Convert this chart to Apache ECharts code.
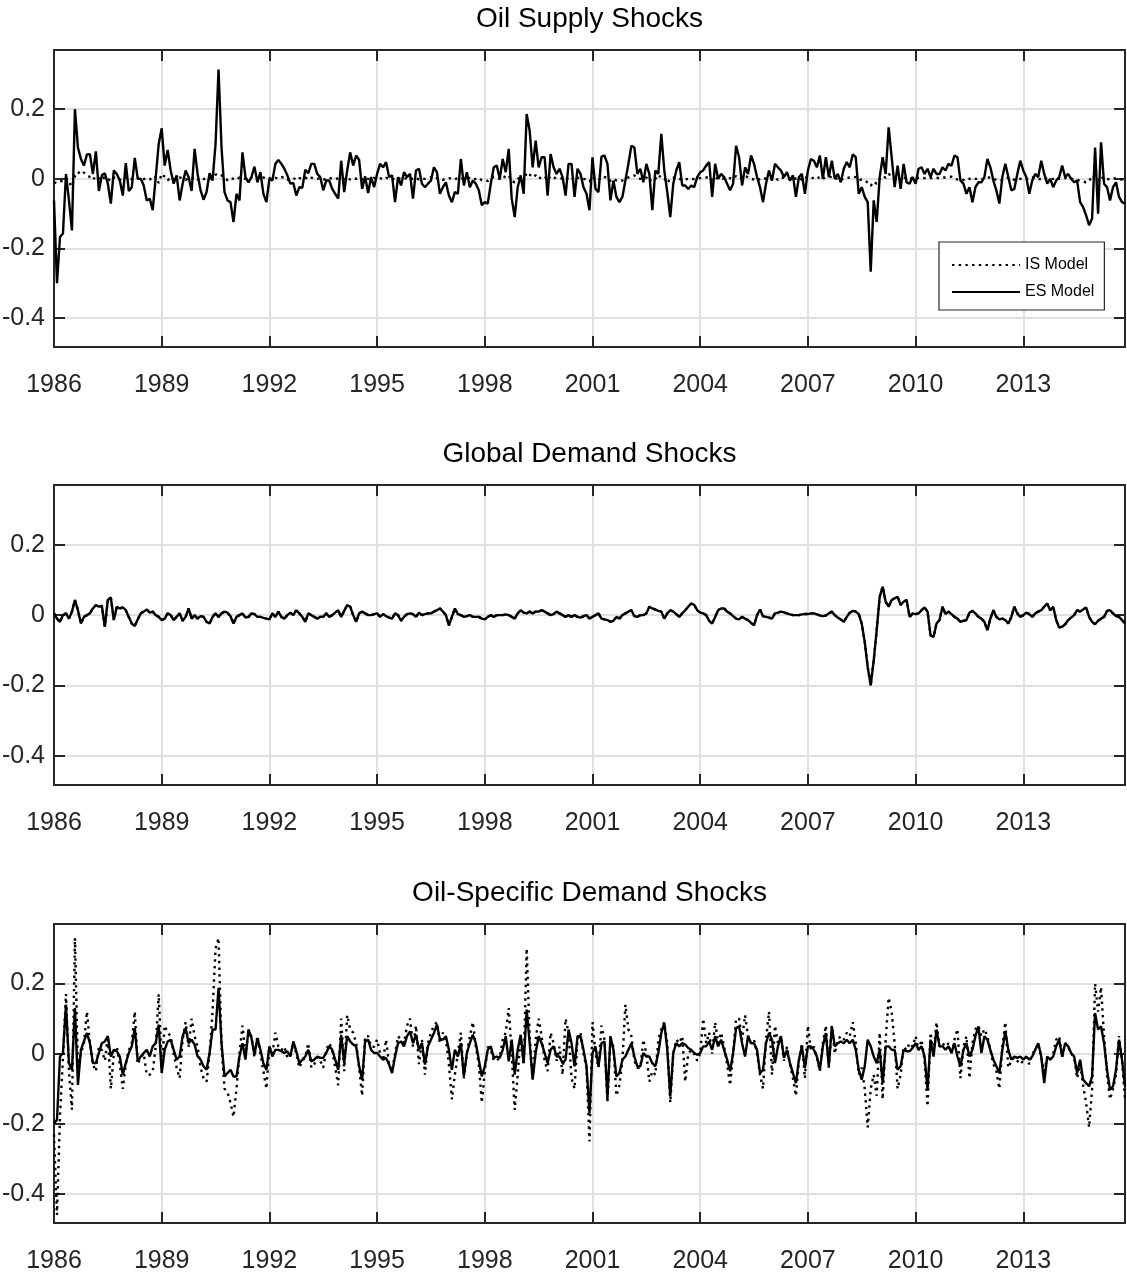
<!DOCTYPE html>
<html>
<head>
<title>Structural shocks</title>
<meta charset="UTF-8">
<script src="https://cdn.jsdelivr.net/npm/echarts@6/dist/echarts.min.js"></script>
<style>
html, body { margin: 0; padding: 0; background: #fff; }
#chart { width: 1127px; height: 1280px; }
</style>
</head>
<body>
<div id="chart"></div>
<script>
// monthly data, first point = Jan 1986
var firstYear = 1986;
var yearTicks = [1986, 1989, 1992, 1995, 1998, 2001, 2004, 2007, 2010, 2013];
var valueTicks = [-0.4, -0.2, 0, 0.2];
var panelTitles = ['Oil Supply Shocks', 'Global Demand Shocks', 'Oil-Specific Demand Shocks'];
var seriesNames = ['IS Model', 'ES Model'];

// oil supply shocks, ES model (solid)
var supplyES = [
-0.062, -0.300, -0.167, -0.157, 0.014, -0.062, -0.148, 0.200, 0.090, 0.057, 0.038, 0.070,
0.071, 0.014, 0.079, -0.035, 0.010, 0.016, -0.014, -0.071, 0.024, 0.014, -0.005, -0.048,
0.045, -0.035, -0.024, 0.060, 0.000, 0.000, -0.019, -0.062, -0.057, -0.090, 0.005, 0.100,
0.145, 0.038, 0.083, 0.024, -0.014, 0.010, -0.062, -0.014, 0.024, 0.005, -0.035, 0.086,
0.014, -0.033, -0.060, -0.038, 0.016, -0.005, 0.100, 0.314, 0.090, -0.038, -0.062, -0.067,
-0.124, -0.043, -0.062, 0.076, 0.005, -0.010, 0.005, 0.035, -0.010, 0.019, -0.043, -0.067,
0.000, -0.005, 0.043, 0.054, 0.043, 0.029, 0.010, -0.014, -0.012, -0.048, -0.024, -0.026,
0.026, 0.016, 0.043, 0.043, 0.014, 0.005, -0.033, -0.005, -0.005, -0.029, -0.043, -0.057,
0.052, -0.038, 0.024, 0.076, 0.038, 0.067, 0.054, -0.029, 0.007, -0.041, 0.005, -0.024,
0.014, 0.043, 0.033, 0.048, 0.005, 0.010, -0.067, 0.005, -0.019, 0.019, 0.005, 0.014,
-0.057, 0.024, 0.029, -0.014, -0.024, -0.014, -0.005, 0.033, 0.019, -0.043, -0.024, -0.010,
-0.048, -0.067, -0.038, -0.043, 0.057, -0.019, 0.019, -0.024, -0.005, -0.014, -0.033, -0.076,
-0.067, -0.071, -0.014, 0.033, 0.038, 0.000, 0.057, 0.019, 0.086, -0.057, -0.110, -0.024,
0.010, -0.043, 0.186, 0.138, 0.033, 0.110, 0.033, 0.062, 0.062, -0.048, 0.071, 0.033,
0.014, 0.029, 0.005, -0.048, 0.043, 0.043, -0.052, 0.029, 0.014, -0.024, -0.043, -0.090,
0.062, -0.029, -0.038, 0.064, 0.067, 0.043, -0.062, -0.005, -0.052, -0.067, -0.052, -0.005,
0.043, 0.095, 0.090, 0.014, 0.029, -0.010, 0.043, 0.014, -0.090, 0.024, 0.014, 0.129,
0.024, -0.038, -0.110, -0.014, 0.024, 0.048, -0.019, -0.019, -0.029, -0.019, -0.024, 0.005,
0.019, 0.024, 0.038, 0.048, -0.052, 0.043, 0.000, 0.014, 0.005, -0.014, -0.033, -0.014,
0.095, 0.062, -0.019, 0.033, 0.014, 0.067, 0.043, 0.005, -0.024, -0.067, -0.014, 0.024,
-0.005, 0.043, 0.033, 0.024, 0.005, 0.019, -0.005, 0.010, -0.052, 0.005, 0.014, -0.043,
0.024, 0.057, 0.052, 0.033, 0.067, 0.000, 0.062, 0.005, 0.052, 0.000, 0.014, -0.010,
0.029, 0.048, 0.033, 0.070, 0.062, -0.043, -0.024, -0.052, -0.067, -0.267, -0.062, -0.124,
0.005, 0.062, 0.014, 0.148, 0.062, -0.024, 0.038, -0.029, 0.043, -0.010, -0.014, 0.005,
-0.014, 0.029, 0.033, 0.014, 0.029, 0.005, 0.029, 0.014, 0.014, 0.033, 0.024, 0.043,
0.038, 0.067, 0.062, -0.005, -0.014, -0.043, -0.024, -0.067, -0.024, -0.010, -0.010, 0.005,
0.057, 0.033, -0.005, -0.033, -0.071, 0.005, 0.043, 0.005, -0.033, -0.029, 0.014, 0.052,
0.024, 0.005, -0.043, -0.005, 0.014, 0.005, 0.052, 0.014, -0.014, 0.000, -0.024, -0.005,
0.005, 0.038, 0.005, 0.014, 0.000, -0.010, -0.005, -0.067, -0.081, -0.105, -0.133, -0.114,
0.090, -0.100, 0.105, -0.014, -0.024, -0.062, -0.024, -0.010, -0.052, -0.067, -0.071
];

// oil supply shocks, IS model (dotted, stays close to zero)
var supplyIS = [
-0.010, -0.012, -0.008, -0.005, 0.003, -0.010, -0.022, 0.008, 0.020, 0.012, 0.018, 0.010,
0.005, -0.003, 0.008, 0.002, -0.004, 0.006, 0.000, -0.006, 0.004, 0.002, -0.003, 0.005,
0.003, -0.002, 0.000, 0.004, 0.002, -0.003, -0.001, 0.003, 0.000, -0.004, 0.006, -0.012,
0.014, 0.006, -0.004, 0.003, 0.000, -0.002, 0.004, 0.001, -0.003, 0.002, 0.000, 0.005,
-0.002, 0.003, -0.001, 0.002, 0.000, 0.004, 0.012, 0.015, 0.010, 0.003, -0.004, 0.002,
0.000, -0.003, 0.004, 0.002, 0.000, -0.002, 0.003, 0.001, 0.000, -0.002, 0.004, 0.000,
0.002, -0.001, 0.003, 0.000, 0.004, 0.005, -0.002, 0.000, 0.003, -0.004, 0.002, 0.000,
0.004, -0.002, 0.003, 0.001, 0.000, 0.002, -0.003, 0.001, 0.003, 0.000, -0.002, 0.002,
0.001, 0.000, 0.003, -0.002, 0.002, 0.000, 0.004, -0.001, 0.002, 0.000, -0.002, 0.003,
0.000, 0.002, -0.002, 0.003, 0.000, 0.001, -0.003, 0.002, 0.000, 0.003, -0.001, 0.002,
0.000, 0.003, -0.002, 0.001, 0.000, 0.002, 0.004, -0.001, 0.002, 0.000, -0.003, 0.001,
0.002, 0.000, -0.002, 0.003, 0.001, 0.000, 0.004, 0.002, -0.002, 0.000, 0.003, -0.004,
-0.005, -0.006, 0.000, 0.006, 0.004, 0.000, 0.008, 0.004, 0.010, -0.006, -0.010, 0.000,
0.004, -0.006, 0.018, 0.012, 0.004, 0.010, 0.000, 0.006, 0.008, -0.004, 0.008, 0.003,
0.002, 0.003, 0.000, -0.004, 0.004, 0.005, -0.004, 0.003, 0.002, 0.000, -0.002, -0.008,
0.006, -0.002, -0.004, 0.006, 0.005, 0.004, -0.006, 0.000, -0.005, -0.006, -0.005, 0.000,
0.004, 0.008, 0.010, 0.002, 0.000, 0.000, 0.004, -0.008, 0.002, 0.000, 0.012, 0.002,
0.002, -0.012, 0.000, 0.003, 0.005, 0.000, -0.002, -0.002, 0.000, -0.002, 0.000, 0.002,
0.002, 0.003, 0.004, 0.005, -0.005, 0.004, 0.000, 0.000, 0.001, 0.000, 0.002, 0.000,
0.008, 0.000, 0.002, 0.008, 0.005, 0.000, -0.002, -0.006, 0.000, 0.003, 0.000, 0.004,
0.000, 0.003, -0.003, 0.004, 0.003, 0.002, 0.000, 0.005, 0.000, 0.004, -0.003, 0.005,
0.002, 0.000, 0.004, 0.000, 0.006, 0.000, 0.005, 0.006, 0.005, 0.006, -0.004, -0.002,
0.000, 0.002, 0.004, 0.006, 0.005, -0.004, -0.002, -0.006, -0.010, -0.020, -0.008, -0.014,
0.000, 0.008, 0.003, 0.014, 0.008, -0.002, 0.004, -0.003, 0.004, 0.000, 0.000, 0.002,
0.000, 0.003, 0.003, 0.002, 0.003, 0.002, 0.002, 0.003, 0.002, 0.004, 0.004, 0.006,
0.006, 0.000, -0.002, -0.005, -0.003, -0.005, 0.000, 0.003, 0.000, 0.000, 0.000, 0.000,
0.004, 0.004, 0.000, -0.003, -0.006, -0.003, 0.000, 0.004, 0.002, -0.003, 0.000, 0.000,
0.002, 0.000, 0.000, 0.004, 0.000, 0.000, -0.002, 0.002, 0.000, 0.000, 0.000, 0.004,
0.000, 0.000, 0.002, 0.002, 0.000, 0.000, -0.003, -0.006, -0.008, -0.010, -0.008, 0.010,
0.004, -0.005, 0.008, -0.002, 0.000, -0.002, 0.000, 0.002, 0.000, -0.002, 0.000
];

// global demand shocks, ES model; the dotted IS line lies right under it
var demandES = [
0.005, -0.010, -0.019, 0.000, 0.005, -0.010, 0.010, 0.043, 0.014, -0.024, -0.005, 0.000,
0.005, 0.019, 0.029, 0.024, 0.026, -0.033, 0.043, 0.050, -0.014, 0.024, 0.019, 0.022,
0.014, -0.005, -0.024, -0.031, -0.012, 0.005, 0.010, 0.016, 0.007, 0.010, 0.000, -0.005,
-0.014, -0.010, 0.005, 0.000, -0.014, -0.005, 0.005, -0.016, -0.005, 0.019, -0.010, 0.000,
-0.010, -0.003, -0.005, -0.019, -0.024, -0.005, 0.005, -0.005, 0.005, 0.010, 0.007, -0.003,
-0.024, -0.005, 0.000, 0.005, -0.007, -0.005, 0.005, 0.003, -0.005, -0.005, -0.008, -0.010,
-0.012, 0.005, -0.005, 0.010, -0.005, -0.010, 0.000, 0.007, 0.000, 0.014, 0.005, -0.005,
-0.019, 0.005, 0.000, -0.005, -0.010, -0.005, -0.005, 0.005, -0.005, 0.000, 0.007, 0.014,
-0.005, 0.012, 0.029, 0.024, 0.000, -0.019, 0.005, 0.010, 0.005, 0.000, 0.000, 0.003,
0.005, -0.005, 0.003, -0.003, -0.007, -0.010, 0.005, 0.000, -0.016, -0.005, 0.003, 0.005,
0.003, -0.005, 0.007, 0.000, 0.003, 0.005, 0.005, 0.010, 0.014, 0.019, 0.010, 0.000,
-0.029, -0.005, 0.019, 0.003, 0.000, -0.005, -0.003, 0.000, -0.005, -0.005, -0.005, -0.010,
-0.012, -0.005, 0.000, -0.005, 0.000, 0.000, 0.000, 0.002, 0.000, -0.005, -0.010, 0.005,
0.014, 0.007, 0.005, 0.010, 0.005, 0.010, 0.010, 0.014, 0.010, 0.005, 0.000, 0.003,
0.010, 0.005, 0.000, -0.005, 0.000, -0.005, 0.000, -0.005, -0.007, -0.003, 0.000, -0.010,
-0.005, 0.000, 0.005, -0.010, -0.012, -0.014, -0.019, -0.016, -0.005, -0.010, 0.000, 0.005,
0.010, 0.014, -0.003, -0.005, 0.000, 0.000, 0.005, 0.024, 0.019, 0.016, 0.012, 0.010,
-0.010, 0.005, 0.014, 0.010, 0.003, -0.005, 0.005, 0.014, 0.024, 0.033, 0.029, 0.014,
0.007, 0.005, 0.000, -0.016, -0.024, -0.005, 0.014, 0.019, 0.019, 0.010, 0.005, -0.003,
-0.010, -0.012, -0.005, -0.010, -0.014, -0.022, -0.029, 0.000, 0.016, -0.003, -0.005, -0.007,
-0.010, 0.005, 0.007, 0.010, 0.008, 0.005, 0.002, 0.000, 0.000, 0.000, 0.002, 0.003,
0.003, 0.005, 0.005, 0.002, -0.001, -0.003, -0.001, 0.005, 0.010, 0.000, -0.007, -0.012,
-0.019, -0.005, 0.007, 0.012, 0.010, 0.003, -0.024, -0.076, -0.148, -0.200, -0.129, -0.043,
0.052, 0.081, 0.038, 0.024, 0.043, 0.048, 0.052, 0.029, 0.038, 0.043, -0.005, 0.005,
0.003, 0.005, 0.014, 0.022, 0.010, -0.057, -0.062, -0.024, -0.014, 0.024, 0.003, 0.010,
0.003, -0.005, -0.010, -0.019, -0.016, -0.014, 0.007, 0.012, 0.005, -0.005, -0.010, -0.019,
-0.043, -0.010, 0.014, -0.005, -0.012, -0.010, -0.014, -0.024, -0.005, 0.024, 0.005, -0.005,
0.000, 0.007, 0.003, -0.005, 0.005, 0.010, 0.014, 0.024, 0.033, 0.014, 0.024, -0.014,
-0.035, -0.033, -0.026, -0.014, -0.007, 0.000, 0.014, 0.010, 0.016, 0.022, -0.005, -0.019,
-0.026, -0.016, -0.010, -0.005, 0.012, 0.014, 0.005, -0.003, -0.005, -0.014, -0.024
];
var demandIS = demandES;

// oil-specific demand shocks, ES model (solid)
var oilES = [
-0.198, -0.189, -0.008, 0.002, 0.140, -0.027, -0.046, 0.130, -0.089, 0.011, 0.035, 0.059,
0.030, -0.027, -0.027, 0.002, 0.030, 0.035, 0.050, -0.008, 0.011, 0.007, -0.008, -0.060,
-0.027, 0.002, 0.021, 0.073, -0.022, -0.008, 0.002, 0.011, -0.008, 0.021, 0.030, 0.083,
-0.055, 0.011, 0.035, 0.040, 0.011, -0.017, -0.008, 0.050, 0.073, 0.030, 0.040, 0.026,
-0.008, -0.017, -0.036, -0.046, 0.002, 0.069, 0.069, 0.188, 0.030, -0.065, -0.055, -0.046,
-0.065, -0.065, -0.008, 0.030, -0.017, 0.069, 0.045, -0.003, 0.045, 0.011, -0.027, -0.046,
0.021, -0.008, 0.011, 0.011, 0.007, 0.002, 0.007, -0.008, 0.035, 0.007, -0.027, -0.017,
-0.008, 0.011, -0.022, -0.017, -0.008, -0.012, -0.012, 0.002, 0.021, 0.011, -0.017, -0.046,
0.054, -0.027, 0.050, 0.035, 0.026, 0.021, -0.036, -0.074, 0.035, 0.040, 0.011, 0.002,
0.002, -0.008, -0.017, -0.012, -0.031, -0.055, -0.008, 0.030, 0.035, 0.021, 0.050, 0.064,
0.030, 0.054, 0.011, 0.030, -0.031, 0.021, 0.040, 0.059, 0.083, 0.040, 0.040, 0.050,
0.011, -0.046, 0.011, -0.008, 0.030, -0.065, 0.002, 0.030, 0.054, 0.030, -0.017, -0.065,
-0.036, 0.011, 0.021, -0.012, -0.008, -0.012, 0.011, 0.050, -0.022, 0.040, -0.060, 0.011,
0.054, -0.027, 0.126, 0.030, -0.074, 0.002, 0.050, 0.030, 0.002, -0.027, 0.011, 0.021,
-0.008, -0.008, -0.027, -0.017, 0.069, 0.030, -0.036, 0.050, 0.050, 0.011, -0.036, -0.170,
0.002, 0.021, -0.036, 0.030, 0.035, -0.127, 0.050, 0.011, -0.065, -0.055, -0.017, -0.008,
0.011, 0.030, -0.008, -0.036, -0.036, 0.002, -0.008, -0.008, -0.027, -0.036, 0.002, 0.059,
0.088, 0.011, -0.122, 0.002, 0.030, 0.021, 0.030, 0.026, 0.016, 0.011, 0.002, -0.003,
0.002, 0.021, 0.021, 0.035, 0.011, 0.050, 0.021, 0.040, 0.011, -0.017, -0.050, 0.002,
0.073, 0.078, 0.030, -0.008, 0.050, 0.030, 0.030, 0.011, -0.055, -0.046, 0.030, 0.059,
0.040, -0.027, 0.021, 0.050, -0.012, 0.011, -0.027, -0.055, -0.084, -0.017, 0.021, -0.041,
0.021, 0.021, 0.011, -0.008, -0.046, 0.021, 0.059, -0.036, 0.078, 0.021, 0.030, 0.035,
0.030, 0.040, 0.030, 0.040, 0.011, -0.046, -0.074, -0.036, 0.040, 0.021, -0.008, -0.027,
0.011, -0.084, 0.021, 0.021, 0.011, 0.011, -0.046, -0.036, 0.011, 0.007, 0.007, 0.016,
0.030, 0.011, 0.021, -0.008, -0.103, 0.040, -0.008, 0.069, 0.021, 0.021, 0.011, 0.021,
0.002, 0.030, -0.008, -0.036, 0.011, 0.030, -0.008, 0.011, 0.050, 0.078, 0.002, 0.050,
0.040, 0.011, -0.017, -0.036, -0.055, 0.011, 0.064, 0.011, -0.017, -0.008, -0.012, -0.008,
-0.017, -0.008, -0.017, -0.008, 0.011, 0.030, -0.008, -0.084, -0.008, -0.017, -0.008, 0.021,
0.040, -0.008, 0.030, 0.021, 0.002, -0.008, -0.055, -0.017, -0.074, -0.084, -0.093, -0.065,
0.116, 0.069, 0.078, 0.030, -0.046, -0.103, -0.093, -0.046, 0.040, -0.017, -0.093
];

// oil-specific demand shocks, IS model (dotted, larger swings)
var oilIS = [
-0.23, -0.46, -0.18, -0.01, 0.17, -0.05, -0.16, 0.33, -0.04, 0.00, 0.03, 0.12,
0.03, -0.03, -0.05, 0.02, 0.01, -0.02, 0.05, -0.10, 0.00, 0.02, -0.03, -0.10,
-0.03, 0.01, 0.03, 0.12, -0.03, -0.01, 0.00, -0.06, -0.06, -0.05, 0.02, 0.17,
-0.04, 0.08, 0.06, 0.05, 0.00, -0.04, -0.07, 0.04, 0.09, 0.02, 0.10, 0.05,
0.02, -0.04, -0.07, -0.08, 0.00, 0.12, 0.30, 0.33, 0.02, -0.10, -0.11, -0.14,
-0.18, -0.10, 0.00, 0.08, 0.00, 0.06, 0.05, -0.01, 0.05, 0.00, -0.05, -0.10,
0.02, 0.00, 0.06, 0.02, 0.01, 0.02, -0.01, -0.01, 0.03, 0.00, -0.04, -0.02,
-0.01, 0.03, -0.04, -0.03, -0.01, -0.02, -0.04, 0.01, 0.03, 0.01, -0.04, -0.09,
0.10, -0.05, 0.11, 0.07, 0.06, 0.03, -0.04, -0.12, 0.05, 0.05, 0.02, 0.02,
0.04, 0.00, -0.02, 0.04, -0.03, -0.05, 0.00, 0.05, 0.04, 0.03, 0.08, 0.10,
0.02, 0.08, -0.03, 0.04, -0.06, 0.03, 0.06, 0.08, 0.09, 0.03, 0.06, 0.04,
-0.03, -0.13, -0.06, 0.00, 0.06, -0.07, 0.00, 0.05, 0.09, 0.02, -0.03, -0.14,
-0.05, 0.02, 0.01, -0.02, -0.02, -0.01, 0.04, 0.06, 0.13, 0.00, -0.16, -0.06,
0.05, -0.03, 0.30, 0.05, -0.07, 0.04, 0.10, 0.05, -0.02, -0.05, 0.06, 0.03,
-0.02, 0.02, -0.06, 0.10, 0.06, -0.07, -0.10, 0.04, 0.06, 0.00, -0.04, -0.25,
0.09, 0.00, -0.04, 0.08, 0.04, -0.14, 0.04, 0.02, -0.12, -0.09, -0.02, 0.14,
0.07, 0.05, -0.02, -0.04, -0.04, 0.04, 0.00, -0.08, -0.05, -0.06, 0.04, 0.07,
0.09, 0.03, -0.14, 0.00, 0.04, 0.03, 0.05, -0.08, 0.00, 0.01, 0.00, -0.02,
0.00, 0.10, 0.03, 0.06, 0.00, 0.09, 0.03, 0.06, 0.02, -0.03, -0.09, 0.00,
0.10, 0.10, 0.04, 0.11, 0.05, 0.03, 0.04, 0.00, -0.06, -0.10, 0.04, 0.12,
-0.06, 0.08, 0.03, 0.05, -0.02, 0.02, -0.03, -0.07, -0.12, -0.02, 0.03, -0.07,
0.08, 0.01, 0.02, -0.01, -0.05, 0.03, 0.08, -0.04, 0.08, 0.00, 0.04, 0.05,
0.04, 0.06, 0.05, 0.09, 0.03, -0.06, -0.04, -0.10, -0.21, -0.10, -0.06, -0.12,
0.06, -0.13, 0.04, 0.16, 0.12, 0.03, -0.10, -0.06, 0.02, 0.01, 0.03, 0.02,
0.05, 0.01, 0.04, -0.02, -0.15, 0.06, 0.00, 0.09, 0.02, 0.03, 0.02, 0.03,
0.00, 0.04, 0.07, -0.07, 0.02, 0.05, -0.07, 0.03, 0.07, 0.08, 0.05, 0.07,
0.05, 0.01, -0.03, -0.05, -0.10, 0.02, 0.09, -0.04, -0.02, -0.01, -0.02, -0.03,
-0.02, -0.01, -0.03, 0.00, 0.01, 0.03, -0.01, -0.05, -0.01, -0.02, 0.00, 0.04,
0.05, -0.01, 0.03, 0.02, 0.00, -0.01, -0.07, -0.03, -0.09, -0.14, -0.21, -0.10,
0.20, 0.12, 0.19, 0.05, -0.06, -0.13, -0.10, -0.06, 0.05, -0.02, -0.13
];

var panels = [
  { is: supplyIS, es: supplyES },
  { is: demandIS, es: demandES },
  { is: oilIS, es: oilES }
];

var chart = echarts.init(document.getElementById('chart'));

var font = '"Liberation Sans Narrow", "Arial Narrow", "Liberation Sans", Arial, sans-serif';
var ink = '#262626';
var gridColor = '#e0e0e0';
var plotLeft = 54, plotWidth = 1071;
var plotTops = [50, 485, 924];
var plotHeights = [297, 300, 299];
var xMax = firstYear + (supplyES.length - 1) / 12;

function toPoints(values) {
  return values.map(function (v, i) { return [firstYear + i / 12, v]; });
}

var grids = [], xAxes = [], yAxes = [], series = [], titles = [];

panels.forEach(function (p, k) {
  grids.push({
    left: plotLeft, top: plotTops[k], width: plotWidth, height: plotHeights[k],
    containLabel: false, outerBoundsMode: 'none'
  });

  titles.push({
    text: panelTitles[k],
    left: plotLeft + plotWidth / 2,
    top: plotTops[k] - 31,
    padding: 0,
    textAlign: 'center',
    textVerticalAlign: 'middle',
    textStyle: { fontFamily: font, fontSize: 28, fontWeight: 'normal', color: '#000' }
  });

  // bottom x axis with labels and grid
  xAxes.push({
    type: 'value', gridIndex: k, position: 'bottom',
    min: firstYear, max: xMax, interval: 3,
    axisLine: { show: true, onZero: false, lineStyle: { color: ink, width: 2 } },
    axisTick: { show: true, inside: true, length: 11, customValues: yearTicks, lineStyle: { color: ink, width: 2 } },
    axisLabel: { show: true, customValues: yearTicks, margin: 26, fontFamily: font, fontSize: 25, color: ink,
      formatter: function (v) { return String(v); } },
    splitLine: { show: true, lineStyle: { color: gridColor, width: 2 } }
  });
  // top x axis, box + ticks only
  xAxes.push({
    type: 'value', gridIndex: k, position: 'top',
    min: firstYear, max: xMax, interval: 3,
    axisLine: { show: true, onZero: false, lineStyle: { color: ink, width: 2 } },
    axisTick: { show: true, inside: true, length: 11, customValues: yearTicks, lineStyle: { color: ink, width: 2 } },
    axisLabel: { show: false },
    splitLine: { show: false }
  });

  yAxes.push({
    type: 'value', gridIndex: k, position: 'left',
    min: -0.483, max: 0.37,
    axisLine: { show: true, onZero: false, lineStyle: { color: ink, width: 2 } },
    axisTick: { show: true, inside: true, length: 11, customValues: valueTicks, lineStyle: { color: ink, width: 2 } },
    axisLabel: { show: true, customValues: valueTicks, margin: 9, fontFamily: font, fontSize: 25, color: ink,
      formatter: function (v) { return v === 0 ? '0' : String(v); } },
    splitLine: { show: true, lineStyle: { color: gridColor, width: 2 } }
  });
  yAxes.push({
    type: 'value', gridIndex: k, position: 'right',
    min: -0.483, max: 0.37,
    axisLine: { show: true, onZero: false, lineStyle: { color: ink, width: 2 } },
    axisTick: { show: true, inside: true, length: 11, customValues: valueTicks, lineStyle: { color: ink, width: 2 } },
    axisLabel: { show: false },
    splitLine: { show: false }
  });

  series.push({
    name: seriesNames[0], type: 'line', xAxisIndex: 2 * k, yAxisIndex: 2 * k,
    data: toPoints(p.is), showSymbol: false, symbol: 'none', silent: true,
    itemStyle: { color: '#000', opacity: 0 },
    lineStyle: { color: '#000', width: 2.4, type: [2.4, 4.3], cap: 'butt' }
  });
  series.push({
    name: seriesNames[1], type: 'line', xAxisIndex: 2 * k, yAxisIndex: 2 * k,
    data: toPoints(p.es), showSymbol: false, symbol: 'none', silent: true,
    itemStyle: { color: '#000', opacity: 0 },
    lineStyle: { color: '#000', width: 2.4, type: 'solid' }
  });
});

chart.setOption({
  backgroundColor: '#fff',
  animation: false,
  title: titles,
  legend: {
    data: seriesNames,
    orient: 'vertical',
    left: 939, top: 242,
    padding: [15, 10, 10, 12],
    itemWidth: 68, itemHeight: 14, itemGap: 11,
    itemStyle: { opacity: 0 },
    backgroundColor: '#fff',
    borderColor: ink, borderWidth: 1.2, borderRadius: 0,
    textStyle: { fontFamily: font, fontSize: 16, color: '#000' }
  },
  grid: grids,
  xAxis: xAxes,
  yAxis: yAxes,
  series: series
});
</script>
</body>
</html>
